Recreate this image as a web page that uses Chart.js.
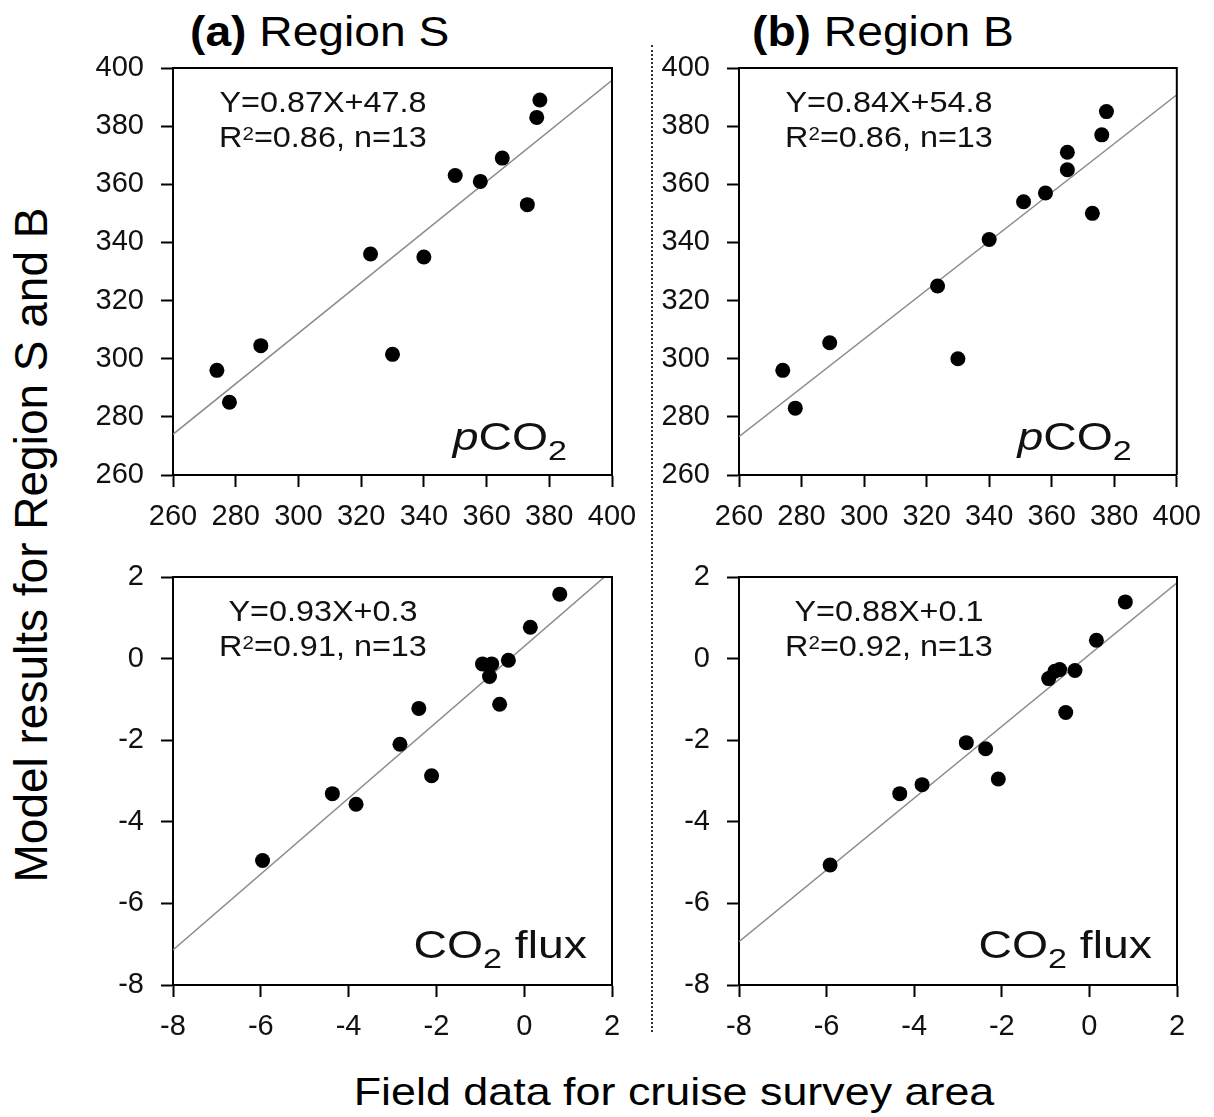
<!DOCTYPE html>
<html>
<head>
<meta charset="utf-8">
<script src="https://cdn.jsdelivr.net/npm/chart.js@4.4.0/dist/chart.umd.min.js"></script>
<style>
  body { margin:0; width:1214px; height:1117px; position:relative; overflow:hidden; background:#fff;
         font-family:"Liberation Sans", Arial, sans-serif; color:#000; }
  canvas { position:absolute; }
  .ptitle { position:absolute; top:11px; font-size:42px; line-height:1; white-space:nowrap;
            transform-origin:left center; transform:scaleX(1.1); }
  .xtitle { position:absolute; left:674px; top:1072px; font-size:39px; line-height:1; white-space:nowrap;
            transform:translateX(-50%) scaleX(1.15); }
  .ytitle { position:absolute; left:31px; top:545px; font-size:46px; line-height:1; white-space:nowrap;
            transform:translate(-50%,-50%) rotate(-90deg); }
  .divider { position:absolute; left:651px; top:45px; height:987px; border-left:2px dotted #333; }
</style>
</head>
<body>
<div class="ptitle" style="left:190px"><b>(a)</b> Region S</div>
<div class="ptitle" style="left:752px"><b>(b)</b> Region B</div>
<div class="divider"></div>
<div class="ytitle">Model results for Region S and B</div>
<div class="xtitle">Field data for cruise survey area</div>

<canvas id="aTop" width="610" height="530" style="left:40px;top:30px"></canvas>
<canvas id="bTop" width="569" height="530" style="left:645px;top:30px"></canvas>
<canvas id="aBot" width="610" height="530" style="left:40px;top:540px"></canvas>
<canvas id="bBot" width="569" height="530" style="left:645px;top:540px"></canvas>

<script>
// tick values
var pco2Ticks = [260, 280, 300, 320, 340, 360, 380, 400];
var fluxTicks = [-8, -6, -4, -2, 0, 2];

// (a) Region S, pCO2  (field vs model)
var pco2FieldS = [274, 278, 288, 323, 330, 340, 350, 358, 365, 373, 376, 377];
var pco2ModelS = [296, 285, 304.5, 336, 301.5, 335, 363, 361, 369, 353, 383, 389];
// (b) Region B, pCO2
var pco2FieldB = [274, 278, 289, 323.5, 330, 340, 351, 358, 365, 365, 373, 376, 377.5];
var pco2ModelB = [296, 283, 305.5, 325, 300, 341, 354, 357, 365, 371, 350, 377, 385];
// (a) Region S, CO2 flux
var fluxFieldS = [-5.96, -4.37, -3.83, -2.83, -2.40, -2.11, -0.95, -0.74, -0.79, -0.56, -0.36, 0.14, 0.81];
var fluxModelS = [-4.95, -3.31, -3.57, -2.10, -1.22, -2.87, -0.13, -0.13, -0.44, -1.12, -0.04, 0.77, 1.58];
// (b) Region B, CO2 flux
var fluxFieldB = [-5.92, -4.33, -3.82, -2.81, -2.37, -2.08, -0.93, -0.79, -0.68, -0.33, -0.54, 0.16, 0.82];
var fluxModelB = [-5.06, -3.31, -3.09, -2.06, -2.21, -2.95, -0.49, -0.31, -0.27, -0.29, -1.32, 0.45, 1.39];

// regression lines as printed in each panel
var fitSlope = [0.87, 0.84, 0.93, 0.88];
var fitIntercept = [47.8, 54.8, 0.3, 0.1];
var eqText = ['Y=0.87X+47.8', 'Y=0.84X+54.8', 'Y=0.93X+0.3', 'Y=0.88X+0.1'];
var r2Text = ['=0.86, n=13', '=0.86, n=13', '=0.91, n=13', '=0.92, n=13'];

var FONT = '"Liberation Sans", Arial, sans-serif';

function drawRuns(ctx, runs, x, y, align, sx) {
  var total = 0;
  runs.forEach(function(r) {
    ctx.font = (r.style || '') + ' ' + r.size + 'px ' + FONT;
    r.w = ctx.measureText(r.t).width;
    total += r.w;
  });
  ctx.save();
  ctx.translate(x, y);
  ctx.scale(sx, 1);
  var cx = align == 'center' ? -total / 2 : (align == 'right' ? -total : 0);
  runs.forEach(function(r) {
    ctx.font = (r.style || '') + ' ' + r.size + 'px ' + FONT;
    ctx.fillText(r.t, cx, r.dy || 0);
    cx += r.w;
  });
  ctx.restore();
}

var panelDecor = {
  id: 'panelDecor',
  afterDatasetsDraw: function(chart, args, o) {
    var ctx = chart.ctx, a = chart.chartArea;
    ctx.save();
    // top and right frame
    ctx.strokeStyle = '#000';
    ctx.lineWidth = 2;
    ctx.beginPath();
    ctx.moveTo(a.left, a.top);
    ctx.lineTo(a.right, a.top);
    ctx.lineTo(a.right, a.bottom);
    ctx.stroke();

    ctx.fillStyle = '#111';
    ctx.textBaseline = 'alphabetic';
    ctx.textAlign = 'left';
    drawRuns(ctx, [{t: o.eq, size: 30}], a.left + 150, a.top + 44, 'center', 1.08);
    drawRuns(ctx, [{t: 'R', size: 30}, {t: '2', size: 19, dy: -7}, {t: o.r2, size: 30}],
             a.left + 150, a.top + 79, 'center', 1.08);
    if (o.kind == 'pco2') {
      drawRuns(ctx, [{t: 'p', size: 38, style: 'italic'}, {t: 'CO', size: 38}, {t: '2', size: 28, dy: 10}],
               a.right - 45, a.bottom - 25, 'right', 1.22);
    } else {
      drawRuns(ctx, [{t: 'CO', size: 38}, {t: '2', size: 28, dy: 10}, {t: ' flux', size: 38}],
               a.right - 25, a.bottom - 27, 'right', 1.22);
    }
    ctx.restore();
  }
};

function makePanel(id, idx, kind, xs, ys, ticks, yWidth, padTop, padRight) {
  var pts = xs.map(function(x, i) { return {x: x, y: ys[i]}; });
  var lo = ticks[0], hi = ticks[ticks.length - 1];
  var fit = [
    {x: lo, y: fitSlope[idx] * lo + fitIntercept[idx]},
    {x: hi, y: fitSlope[idx] * hi + fitIntercept[idx]}
  ];
  var axisCommon = function(pos) {
    return {
      type: 'linear', position: pos, min: lo, max: hi,
      afterBuildTicks: function(s) { s.ticks = ticks.map(function(v) { return {value: v}; }); },
      grid: {drawOnChartArea: false, drawTicks: true, tickLength: 12, tickWidth: 2, tickColor: '#000'},
      border: {display: true, color: '#000', width: 2},
      ticks: {color: '#111', font: {family: FONT, size: 29}, autoSkip: false, maxRotation: 0}
    };
  };
  var xAxis = axisCommon('bottom');
  xAxis.ticks.padding = 13;
  xAxis.afterFit = function(s) { s.height = 85; };
  var yAxis = axisCommon('left');
  yAxis.ticks.padding = 17;
  yAxis.afterFit = function(s) { s.width = yWidth; };

  new Chart(document.getElementById(id), {
    type: 'scatter',
    data: {
      datasets: [
        {data: pts, backgroundColor: '#000', borderColor: '#000', pointRadius: 7.5, pointBorderWidth: 0, order: 1},
        {type: 'line', data: fit, borderColor: '#8c8c8c', borderWidth: 1.5, pointRadius: 0, order: 2, clip: 0}
      ]
    },
    options: {
      responsive: false,
      animation: false,
      events: [],
      layout: {padding: {top: padTop, right: padRight, left: 0, bottom: 0}},
      plugins: {
        legend: {display: false},
        tooltip: {enabled: false},
        panelDecor: {eq: eqText[idx], r2: r2Text[idx], kind: kind}
      },
      scales: {x: xAxis, y: yAxis}
    },
    plugins: [panelDecor]
  });
}

makePanel('aTop', 0, 'pco2', pco2FieldS, pco2ModelS, pco2Ticks, 133, 38, 38);
makePanel('bTop', 1, 'pco2', pco2FieldB, pco2ModelB, pco2Ticks, 94, 38, 37);
makePanel('aBot', 2, 'flux', fluxFieldS, fluxModelS, fluxTicks, 133, 37, 38);
makePanel('bBot', 3, 'flux', fluxFieldB, fluxModelB, fluxTicks, 94, 37, 37);
</script>
</body>
</html>
